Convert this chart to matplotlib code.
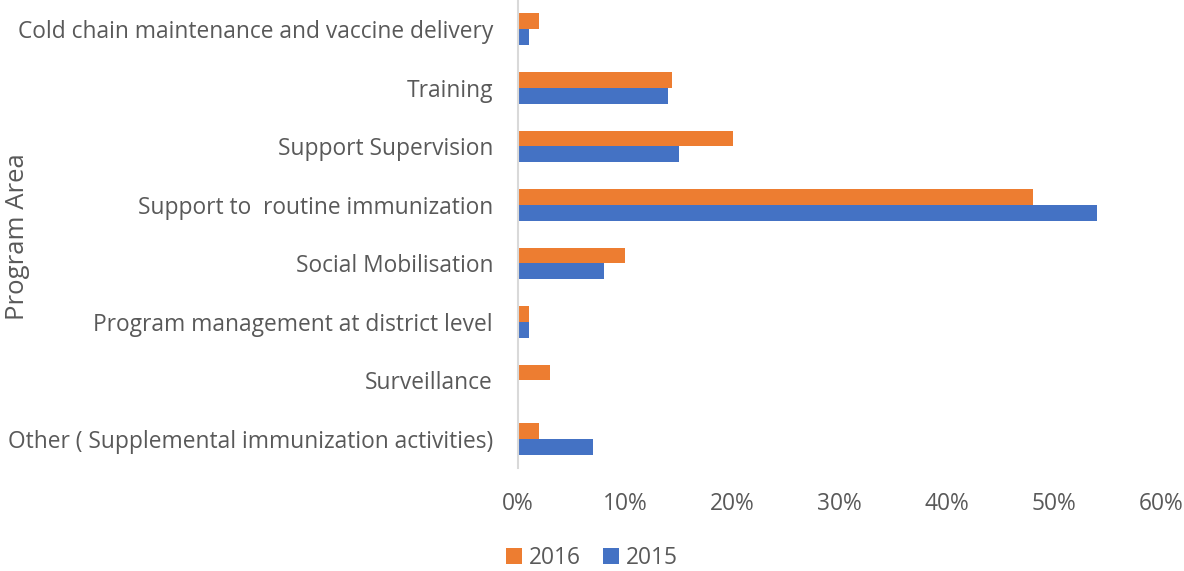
import numpy as np
import matplotlib.pyplot as plt
from matplotlib.ticker import PercentFormatter

# program areas, top to bottom
areas = ['Cold chain maintenance and vaccine delivery', 'Training', 'Support Supervision',
         'Support to  routine immunization', 'Social Mobilisation',
         'Program management at district level', 'Surveillance',
         'Other ( Supplemental immunization activities)']
share_2016 = [2, 14.4, 20, 48, 10, 1, 3, 2]
share_2015 = [1, 14, 15, 54, 8, 1, 0, 7]

plt.rcParams['font.family'] = ['Open Sans', 'DejaVu Sans']
text_color = '#595959'

fig = plt.figure(figsize=(11.84, 5.71), dpi=100)
ax = fig.add_axes([0.4375, 0.18, 0.5435, 0.82])

y = np.arange(len(areas))
h = 0.27
ax.barh(y - h / 2, share_2016, height=h, color='#ED7D31', label='2016')
ax.barh(y + h / 2, share_2015, height=h, color='#4472C4', label='2015')

ax.set_ylim(len(areas) - 0.5, -0.5)
ax.set_xlim(0, 60)
ax.set_xticks(range(0, 61, 10))
ax.xaxis.set_major_formatter(PercentFormatter(decimals=0))
ax.set_yticks(y)
ax.set_yticklabels(areas)
ax.tick_params(axis='both', length=0, labelsize=16.4, colors=text_color)
ax.tick_params(axis='x', pad=17)
ax.tick_params(axis='y', pad=18)

for side in ['top', 'right', 'bottom']:
    ax.spines[side].set_visible(False)
ax.spines['left'].set_color('#D9D9D9')
ax.spines['left'].set_linewidth(1.5)

fig.text(0.004, 0.585, 'Program Area', rotation=90, ha='left', va='center',
         fontsize=18.5, color=text_color)

fig.legend(loc='center', bbox_to_anchor=(0.5, 0.022), ncol=2, frameon=False,
           fontsize=16.4, labelcolor=text_color, handlelength=0.7, handleheight=0.7,
           handletextpad=0.3, columnspacing=1.0)

fig.savefig('out.png', dpi=100)
